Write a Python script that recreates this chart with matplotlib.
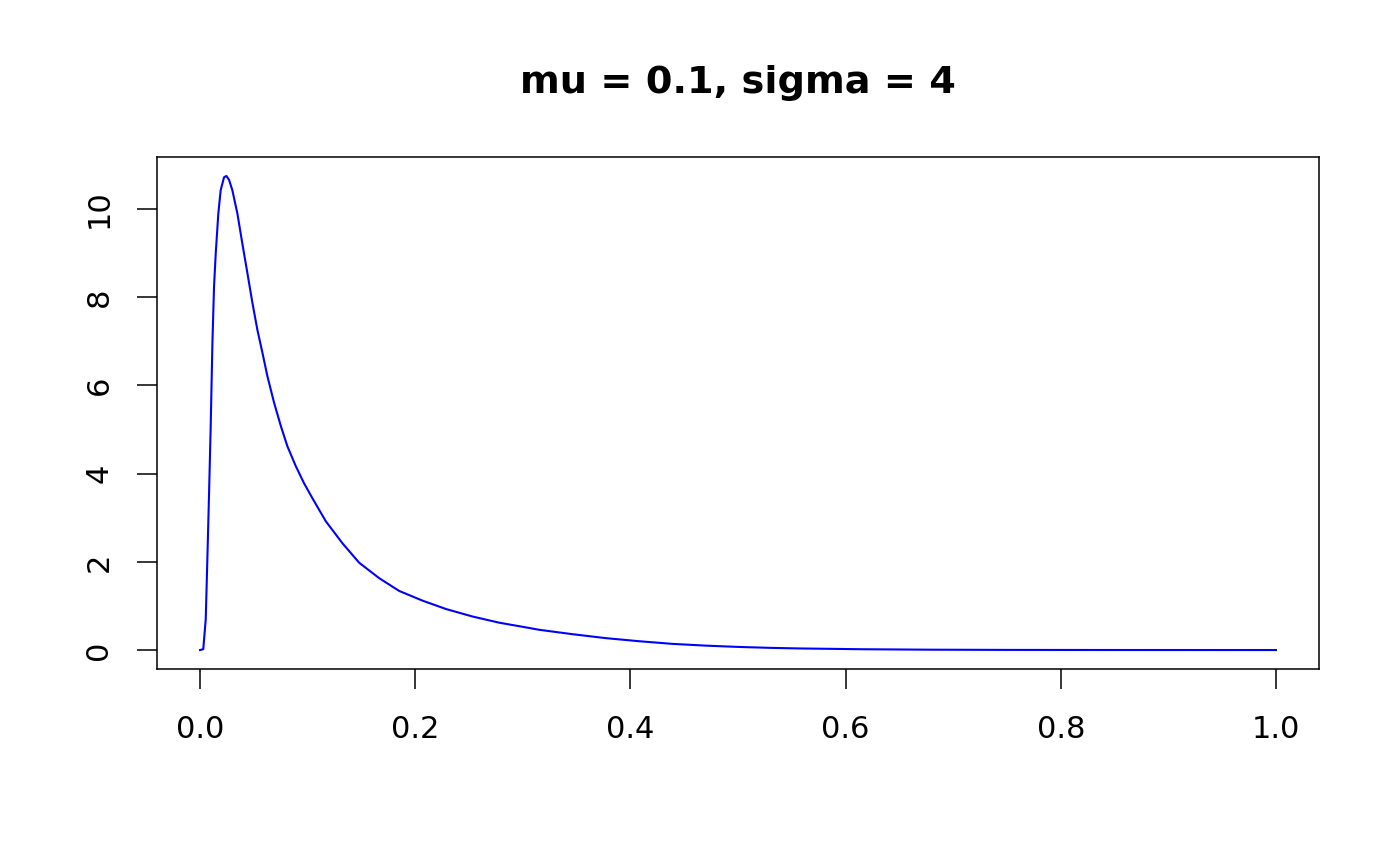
import matplotlib
matplotlib.use("Agg")
import matplotlib.pyplot as plt

# density curve
x_vals = [0.0, 0.003, 0.0053, 0.0068, 0.0084, 0.0099, 0.0115, 0.013, 0.0146,
          0.017, 0.0192, 0.0223, 0.0245, 0.027, 0.030, 0.0347, 0.0393, 0.044,
          0.0487, 0.0533, 0.058, 0.0626, 0.0688, 0.0751, 0.0812, 0.089, 0.0967,
          0.1045, 0.1169, 0.1324, 0.1479, 0.1665, 0.1851, 0.2068, 0.2286, 0.2533,
          0.2781, 0.306, 0.315, 0.346, 0.377, 0.408, 0.439, 0.47, 0.501, 0.532,
          0.557, 0.616, 0.678, 0.75, 0.85, 1.0]
y_vals = [0.0, 0.02, 0.7, 2.06, 3.57, 5.07, 6.96, 8.24, 9.0,
          9.9, 10.43, 10.72, 10.75, 10.66, 10.43, 9.9, 9.22, 8.55,
          7.87, 7.26, 6.74, 6.21, 5.61, 5.08, 4.62, 4.17, 3.78,
          3.44, 2.92, 2.42, 1.98, 1.63, 1.34, 1.12, 0.93, 0.76,
          0.62, 0.50, 0.46, 0.36, 0.27, 0.20, 0.14, 0.10, 0.07, 0.048,
          0.036, 0.018, 0.008, 0.003, 0.001, 0.0]

x_ticks = [0.0, 0.2, 0.4, 0.6, 0.8, 1.0]
x_labels = ["0.0", "0.2", "0.4", "0.6", "0.8", "1.0"]
y_ticks = [0, 2, 4, 6, 8, 10]
title = "mu = 0.1, sigma = 4"

fig = plt.figure(figsize=(14, 8.66), dpi=100)
ax = fig.add_axes([157/1400, 1-669/866, (1319-157)/1400, (669-157)/866])

ax.plot(x_vals, y_vals, color="blue", lw=1.5)

ax.set_xlim(-0.04, 1.04)
ax.set_ylim(-0.43, 11.18)
ax.set_xticks(x_ticks)
ax.set_xticklabels(x_labels)
ax.set_yticks(y_ticks)
ax.set_yticklabels([str(t) for t in y_ticks], rotation=90, va="center")
ax.tick_params(direction="out", length=14.4, width=1.1, labelsize=22, pad=17)
ax.tick_params(axis="x", pad=18.5)
for s in ax.spines.values():
    s.set_linewidth(1.1)

fig.text(738/1400, 1-93.3/866, title, ha="center", va="baseline",
         fontsize=27.5, fontweight="bold")

fig.savefig("out.png", dpi=100)
